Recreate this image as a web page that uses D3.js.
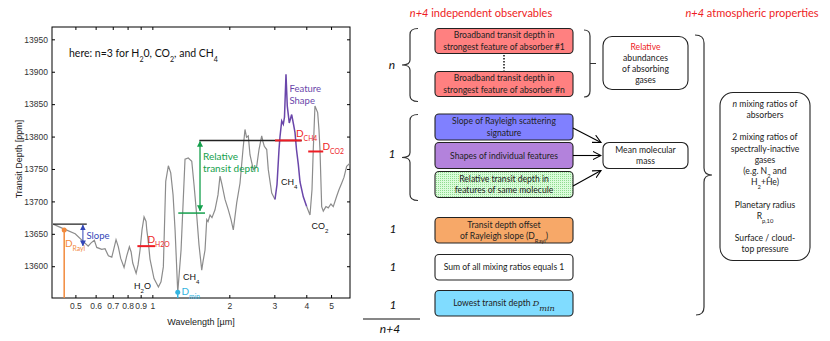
<!DOCTYPE html>
<meta charset="utf-8">
<title>Transit spectrum: observables and atmospheric properties</title>
<style>
    body {
        margin: 0;
        background: #fff;
    }

    svg {
        display: block;
        font-family: Lato, "Open Sans", sans-serif;
    }

    .axis .tick text {
        font-family: "Liberation Sans", Arial, sans-serif;
        font-size: 8.5px;
        fill: #333;
    }

    .axis .tick line {
        stroke: #000;
    }
</style>

<body>
    <svg width="830" height="341"></svg>

    <script src="https://d3js.org/d3.v7.min.js"></script>
    <script>
        // Spectrum, wavelength in micron and transit depth in ppm
        const wavelength = [0.409, 0.448, 0.499, 0.561, 0.576, 0.593, 0.606, 0.634, 0.653, 0.673,
            0.694, 0.708, 0.721, 0.736, 0.752, 0.775, 0.794, 0.813, 0.826, 0.838,
            0.864, 0.879, 0.895, 0.911, 0.928, 0.945, 0.951, 0.962, 0.979, 1.015,
            1.056, 1.081, 1.104, 1.128, 1.155, 1.180, 1.205, 1.227, 1.257, 1.295,
            1.342, 1.382, 1.426, 1.455, 1.492, 1.522, 1.560, 1.578, 1.607, 1.632,
            1.651, 1.681, 1.711, 1.758, 1.806, 1.839, 1.867, 1.924, 1.982, 2.031,
            2.073, 2.138, 2.202, 2.262, 2.303, 2.335, 2.373, 2.409, 2.482, 2.559,
            2.613, 2.677, 2.709, 2.741, 2.801, 2.841, 2.930, 3.018,
            3.073, 3.129, 3.157, 3.206, 3.252, 3.287, 3.332, 3.371, 3.432, 3.507,
            3.565, 3.614, 3.662, 3.723, 3.780, 3.894, 4.014,
            4.136, 4.211, 4.260, 4.325, 4.432, 4.484, 4.525, 4.595, 4.662, 4.775,
            4.875, 4.995, 5.100, 5.259, 5.369, 5.501, 5.616, 5.754, 5.929];
        const depth = [13665, 13658, 13650, 13631, 13636, 13640, 13629, 13626, 13627, 13616,
            13614, 13628, 13641, 13630, 13612, 13598, 13616, 13630, 13622, 13605,
            13589, 13602, 13625, 13656, 13676, 13669, 13656, 13641, 13611, 13581,
            13568, 13576, 13599, 13731, 13755, 13744, 13710, 13656, 13560, 13625,
            13765, 13767, 13762, 13726, 13677, 13633, 13594, 13607, 13625, 13672,
            13669, 13679, 13675, 13687, 13710, 13739, 13728, 13703, 13687, 13672,
            13656, 13698, 13728, 13780, 13811, 13799, 13801, 13772, 13749, 13754,
            13780, 13801, 13792, 13785, 13780, 13749, 13713, 13703,
            13726, 13780, 13800, 13824, 13819, 13830, 13896, 13847, 13821, 13834,
            13819, 13806, 13780, 13757, 13730, 13707, 13692,
            13679, 13718, 13780, 13847, 13837, 13811, 13780, 13692, 13685, 13692,
            13690, 13696, 13692, 13708, 13718, 13728, 13737, 13754, 13759];

        // CH4 band highlighted as "feature shape"
        const featureBand = [3.018, 4.014];

        const xTicks = [0.5, 0.6, 0.7, 0.8, 0.9, 1, 2, 3, 4, 5];
        const yTicks = [13600, 13650, 13700, 13750, 13800, 13850, 13900, 13950];

        // annotation values (wavelength / depth)
        const slopeRef = { from: 0.409, to: 0.554, depth: 13665, arrowAt: 0.535, low: 13630 };
        const dRayl = { wl: 0.452, depth: 13656 };
        const dH2O = { from: 0.874, to: 1.024, depth: 13631 };
        const dMin = { wl: 1.257, depth: 13560 };
        const relRef = { from: 1.527, to: 3.837, depth: 13794, arrowAt: 1.536, low: 13684 };
        const relLow = { from: 1.263, to: 1.607, depth: 13682 };
        const dCH4 = { from: 3.018, to: 3.837, depth: 13794 };
        const dCO2 = { from: 4.07, to: 4.66, depth: 13777 };

        const red = "#ee1c24";
        const svg = d3.select("svg");
        const defs = svg.append("defs");

        // arrow heads
        function triMarker(id, color) {
            defs.append("marker").attr("id", id)
                .attr("viewBox", "0 0 10 10").attr("refX", 9).attr("refY", 5)
                .attr("markerWidth", 6).attr("markerHeight", 6)
                .attr("markerUnits", "userSpaceOnUse")
                .attr("orient", "auto-start-reverse")
                .append("path").attr("d", "M0,0 L10,5 L0,10 Z").attr("fill", color);
        }
        triMarker("tri-green", "#14a04c");
        triMarker("tri-blue", "#3346b8");
        defs.append("marker").attr("id", "chev")
            .attr("viewBox", "0 0 10 10").attr("refX", 9).attr("refY", 5)
            .attr("markerWidth", 9).attr("markerHeight", 9)
            .attr("markerUnits", "userSpaceOnUse")
            .attr("orient", "auto")
            .append("path").attr("d", "M0,0.5 L9,5 L0,9.5")
            .attr("fill", "none").attr("stroke", "#000").attr("stroke-width", 1.2);

        const pat = defs.append("pattern").attr("id", "dots")
            .attr("width", 2).attr("height", 2).attr("patternUnits", "userSpaceOnUse");
        pat.append("rect").attr("width", 2).attr("height", 2).attr("fill", "#dcfcdc");
        pat.append("rect").attr("width", 1).attr("height", 1).attr("fill", "#8fdc8f");

        // text with sub/italic parts: parts = ["txt", ["txt", "sub it red serif"]]
        function rich(sel, parts, size) {
            parts.forEach(p => {
                const [t, s] = Array.isArray(p) ? p : [p, ""];
                const ts = sel.append("tspan").text(t);
                if (s.includes("sub")) ts.attr("baseline-shift", "sub").attr("font-size", size * 0.68);
                if (s.includes("it")) ts.attr("font-style", "italic");
                if (s.includes("red")) ts.attr("fill", red);
                if (s.includes("serif")) ts.attr("font-family", "DejaVu Serif").attr("font-size", size * 0.95);
            });
            return sel;
        }

        function label(g, px, py, parts, opts = {}) {
            const size = opts.size || 10;
            const t = g.append("text").attr("x", px).attr("y", py)
                .attr("font-size", size)
                .attr("fill", opts.color || "#111")
                .attr("text-anchor", opts.anchor || "start");
            if (opts.family) t.attr("font-family", opts.family);
            if (opts.style) t.attr("font-style", opts.style);
            return rich(t, parts, size);
        }

        // ---------------- left: spectrum ----------------
        const x = d3.scaleLog().domain([0.405, 5.93]).range([52, 350]);
        const y = d3.scaleLinear().domain([13551, 13969]).range([298, 27]);
        const [x0, x1] = x.range();
        const [yb, yt] = y.range();

        const chart = svg.append("g");

        chart.append("g").attr("class", "axis")
            .attr("transform", `translate(0,${yb})`)
            .call(d3.axisBottom(x).tickValues(xTicks).tickFormat(d3.format("")).tickSize(-3).tickPadding(5))
            .call(g => g.select(".domain").remove());
        chart.append("g").attr("class", "axis")
            .attr("transform", `translate(0,${yt})`)
            .call(d3.axisTop(x).tickValues(xTicks).tickFormat("").tickSize(-3))
            .call(g => g.select(".domain").remove());
        chart.append("g").attr("class", "axis")
            .attr("transform", `translate(${x0},0)`)
            .call(d3.axisLeft(y).tickValues(yTicks).tickFormat(d3.format("d")).tickSize(-3).tickPadding(4))
            .call(g => g.select(".domain").remove());
        chart.append("g").attr("class", "axis")
            .attr("transform", `translate(${x1},0)`)
            .call(d3.axisRight(y).tickValues(yTicks).tickFormat("").tickSize(-3))
            .call(g => g.select(".domain").remove());

        chart.append("rect")
            .attr("x", x0).attr("y", yt)
            .attr("width", x1 - x0).attr("height", yb - yt)
            .attr("fill", "none").attr("stroke", "#000").attr("stroke-width", 1);

        chart.append("text")
            .attr("x", (x0 + x1) / 2).attr("y", 325)
            .attr("text-anchor", "middle")
            .attr("font-family", "Liberation Sans, Arial, sans-serif")
            .attr("font-size", 9).attr("fill", "#222")
            .text("Wavelength [\u00b5m]");
        chart.append("text")
            .attr("transform", "translate(22,159) rotate(-90)")
            .attr("text-anchor", "middle")
            .attr("font-family", "Liberation Sans, Arial, sans-serif")
            .attr("font-size", 9).attr("fill", "#222")
            .text("Transit Depth [ppm]");

        const pts = d3.zip(wavelength, depth);
        const line = d3.line().x(d => x(d[0])).y(d => y(d[1]));

        chart.append("path")
            .attr("d", line(pts.filter(d => d[0] <= featureBand[0])))
            .attr("fill", "none").attr("stroke", "#8c8c8c").attr("stroke-width", 1.2);
        chart.append("path")
            .attr("d", line(pts.filter(d => d[0] >= featureBand[1])))
            .attr("fill", "none").attr("stroke", "#8c8c8c").attr("stroke-width", 1.2);
        chart.append("path")
            .attr("d", line(pts.filter(d => d[0] >= featureBand[0] && d[0] <= featureBand[1])))
            .attr("fill", "none").attr("stroke", "#6a46aa").attr("stroke-width", 1.5);

        function hline(from, to, d, color, w) {
            chart.append("line")
                .attr("x1", x(from)).attr("x2", x(to))
                .attr("y1", y(d)).attr("y2", y(d))
                .attr("stroke", color).attr("stroke-width", w);
        }

        // Rayleigh slope
        hline(slopeRef.from, slopeRef.to, slopeRef.depth, "#222", 1.2);
        chart.append("line")
            .attr("x1", x(slopeRef.arrowAt)).attr("x2", x(slopeRef.arrowAt))
            .attr("y1", y(slopeRef.depth) + 1).attr("y2", y(slopeRef.low) - 1)
            .attr("stroke", "#3346b8").attr("stroke-width", 1)
            .attr("marker-start", "url(#tri-blue)").attr("marker-end", "url(#tri-blue)");
        label(chart, 86.5, 238.5, ["Slope"], { color: "#3346b8", size: 9.5 });

        // D_Rayl
        chart.append("line")
            .attr("x1", x(dRayl.wl)).attr("x2", x(dRayl.wl))
            .attr("y1", y(dRayl.depth)).attr("y2", yb)
            .attr("stroke", "#f28a3c").attr("stroke-width", 1.5);
        chart.append("circle").attr("cx", x(dRayl.wl)).attr("cy", y(dRayl.depth)).attr("r", 2.5).attr("fill", "#f28a3c");
        label(chart, 65, 246.5, ["D", ["Rayl", "sub"]], { color: "#f28a3c", size: 10 });

        // D_H2O
        hline(dH2O.from, dH2O.to, dH2O.depth, red, 2);
        label(chart, 147.5, 242.5, ["D", ["H2O", "sub"]], { color: red, size: 10 });

        // D_min
        chart.append("line")
            .attr("x1", x(dMin.wl)).attr("x2", x(dMin.wl))
            .attr("y1", y(dMin.depth)).attr("y2", yb)
            .attr("stroke", "#33b4e0").attr("stroke-width", 1.5);
        chart.append("circle").attr("cx", x(dMin.wl)).attr("cy", y(dMin.depth)).attr("r", 2.5).attr("fill", "#33b4e0");
        label(chart, 181.5, 294.5, ["D", ["min", "sub"]], { color: "#33b4e0", size: 10 });

        // relative transit depth
        hline(relRef.from, relRef.to, relRef.depth, "#222", 1.5);
        hline(relLow.from, relLow.to, relLow.depth, "#14a04c", 1.5);
        chart.append("line")
            .attr("x1", x(relRef.arrowAt)).attr("x2", x(relRef.arrowAt))
            .attr("y1", y(relRef.depth) + 1).attr("y2", y(relRef.low) - 1)
            .attr("stroke", "#14a04c").attr("stroke-width", 1.3)
            .attr("marker-start", "url(#tri-green)").attr("marker-end", "url(#tri-green)");
        label(chart, 203, 160, ["Relative"], { color: "#14a04c", size: 10 });
        label(chart, 203, 172, ["transit depth"], { color: "#14a04c", size: 10 });

        // D_CH4, D_CO2
        hline(dCH4.from, dCH4.to, dCH4.depth, red, 2);
        label(chart, 296, 137, ["D", ["CH4", "sub"]], { color: red, size: 10 });
        hline(dCO2.from, dCO2.to, dCO2.depth, red, 2);
        label(chart, 322.5, 150, ["D", ["CO2", "sub"]], { color: red, size: 10 });

        label(chart, 289.5, 91.5, ["Feature"], { color: "#6a46aa", size: 9.5 });
        label(chart, 289.5, 103.5, ["Shape"], { color: "#6a46aa", size: 9.5 });

        // molecule labels
        const mol = { family: "Liberation Sans, Arial, sans-serif", size: 9, color: "#111" };
        label(chart, 134, 289, ["H", ["2", "sub"], "O"], mol);
        label(chart, 183, 280, ["CH", ["4", "sub"]], mol);
        label(chart, 281, 185, ["CH", ["4", "sub"]], mol);
        label(chart, 311.5, 228.5, ["CO", ["2", "sub"]], mol);

        label(chart, 69, 57, ["here: n=3 for H", ["2", "sub"], "0, CO", ["2", "sub"], ", and CH", ["4", "sub"]], { size: 10.5, color: "#111" });

        // ---------------- right: diagram ----------------
        const dia = svg.append("g");
        const boxFont = 8.6;

        label(dia, 481, 17, [["n+4", "it"], " independent observables"], { color: red, size: 11, anchor: "middle" });
        label(dia, 752, 17, [["n+4", "it"], " atmospheric properties"], { color: red, size: 11, anchor: "middle" });

        function box(bx, by, bw, bh, fill, rx, lines, gap) {
            dia.append("rect")
                .attr("x", bx).attr("y", by).attr("width", bw).attr("height", bh)
                .attr("rx", rx).attr("ry", rx)
                .attr("fill", fill).attr("stroke", "#222").attr("stroke-width", 1.1);
            const cy = by + bh / 2 - (lines.length - 1) * gap / 2;
            lines.forEach((ln, i) => {
                const t = dia.append("text")
                    .attr("x", bx + bw / 2).attr("y", cy + i * gap).attr("dy", "0.35em")
                    .attr("text-anchor", "middle").attr("font-size", boxFont).attr("fill", "#222");
                rich(t, ln, boxFont);
            });
        }

        const bx = 435, bw = 138;
        box(bx, 28.5, bw, 25, "#ff8080", 4, [["Broadband transit depth in"], ["strongest feature of absorber #1"]], 11.5);
        box(bx, 71.5, bw, 25, "#ff8080", 4, [["Broadband transit depth in"], ["strongest feature of absorber #n"]], 11.5);
        dia.append("line").attr("x1", 504).attr("x2", 504).attr("y1", 55).attr("y2", 70.5)
            .attr("stroke", "#111").attr("stroke-width", 1.5).attr("stroke-dasharray", "1.5,1.5");

        box(bx, 114, bw, 26, "#8080ff", 4, [["Slope of Rayleigh scattering"], ["signature"]], 11.5);
        box(bx, 142.5, bw, 26, "#b382dc", 4, [["Shapes of individual features"]], 11.5);
        box(bx, 171.5, bw, 26, "url(#dots)", 4, [["Relative transit depth in"], ["features of same molecule"]], 11.5);

        box(bx, 217.5, bw, 25.5, "#f7a868", 4, [["Transit depth offset"], ["of Rayleigh slope (D", ["Rayl", "sub"], ")"]], 11.5);
        box(bx, 254.5, bw, 25.5, "#ffffff", 4, [["Sum of all mixing ratios equals 1"]], 11.5);
        box(bx, 290.5, bw, 25.5, "#80dcff", 4, [["Lowest transit depth ", ["D", "it serif"], ["min", "it serif sub"]]], 11.5);

        box(603, 36.5, 85, 53, "#fff", 9, [[["Relative", "red"]], ["abundances"], ["of absorbing"], ["gases"]], 11);
        box(603, 142.5, 85, 26, "#fff", 6, [["Mean molecular"], ["mass"]], 11.2);
        box(720, 92.5, 90, 168, "#fff", 13, [
            [["n", "it"], " mixing ratios of"], ["absorbers"], [""],
            ["2 mixing ratios of"], ["spectrally-inactive"], ["gases"],
            ["(e.g. N", ["2", "sub"], " and"], ["H", ["2", "sub"], "+He)"], [""],
            ["Planetary radius"], ["R", ["p,10", "sub"]], [""],
            ["Surface / cloud-"], ["top pressure"]], 11.2);

        // arrows to mean molecular mass
        [[573, 128, 601, 142.5], [573, 155.5, 601, 155.5], [573, 186, 601, 170.5]].forEach(a => {
            dia.append("line").attr("x1", a[0]).attr("y1", a[1]).attr("x2", a[2]).attr("y2", a[3])
                .attr("stroke", "#000").attr("stroke-width", 1.1).attr("marker-end", "url(#chev)");
        });

        // braces
        function leftBrace(xv, y0, y1, ym) {
            return `M${xv + 8},${y0} Q${xv},${y0} ${xv},${y0 + 6} L${xv},${ym - 5} Q${xv},${ym} ${xv - 8},${ym}` +
                ` Q${xv},${ym} ${xv},${ym + 5} L${xv},${y1 - 6} Q${xv},${y1} ${xv + 8},${y1}`;
        }
        const braceStyle = p => p.attr("fill", "none").attr("stroke", "#333").attr("stroke-width", 1.2);
        braceStyle(dia.append("path").attr("d", leftBrace(410, 28.5, 101.5, 65)));
        braceStyle(dia.append("path").attr("d", leftBrace(410, 114.5, 200.5, 157.5)));
        braceStyle(dia.append("path").attr("d", "M584,30 Q590,30 590,36 L590,91 Q590,97 584,97 M590,63.5 L596,63.5"));
        braceStyle(dia.append("path").attr("d",
            "M695,35 Q704,35 704,43 L704,168 Q704,175 712,175 Q704,175 704,182 L704,307 Q704,315 696,315"));

        const cnt = { size: 12, anchor: "middle", color: "#111", style: "italic" };
        label(dia, 392, 69, ["n"], cnt);
        label(dia, 392, 158, ["1"], cnt);
        label(dia, 393, 232.5, ["1"], cnt);
        label(dia, 393, 270.5, ["1"], cnt);
        label(dia, 393, 308.5, ["1"], cnt);
        dia.append("line").attr("x1", 363).attr("x2", 420).attr("y1", 319).attr("y2", 319)
            .attr("stroke", "#111").attr("stroke-width", 1.2);
        label(dia, 390, 333, ["n+4"], cnt);
    </script>
</body>

</html>
